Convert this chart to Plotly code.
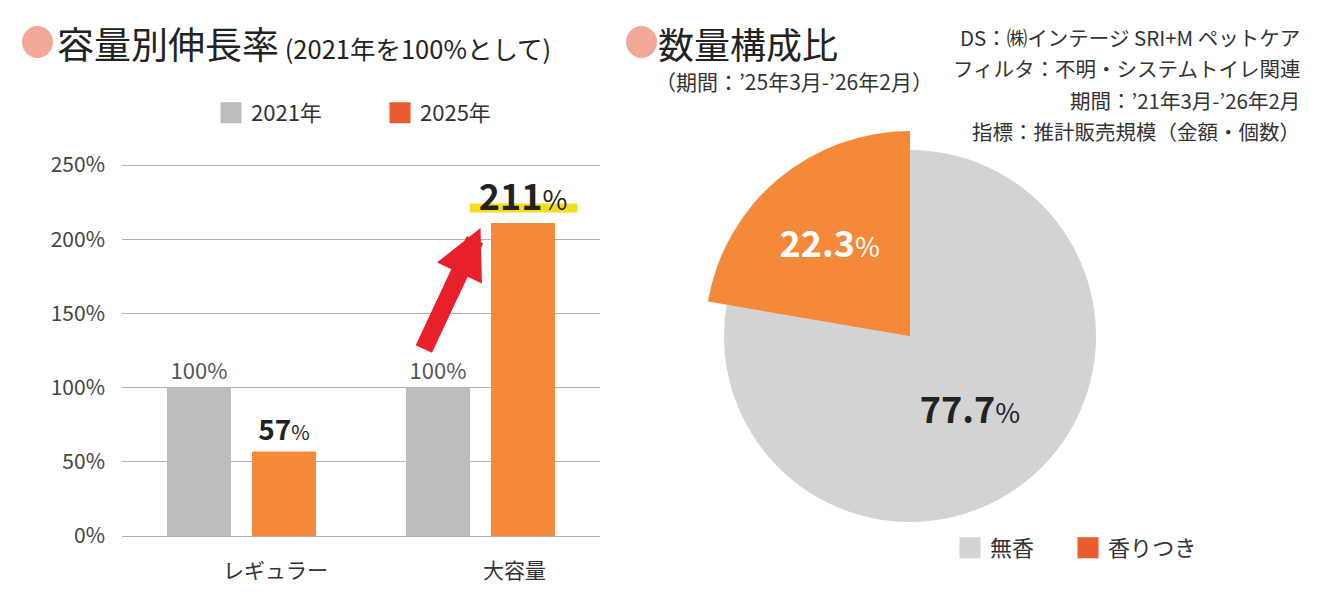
import plotly.graph_objects as go

# --- data ---
categories = ["レギュラー", "大容量"]
series_names = ["2021年", "2025年"]
growth_2021 = [100, 100]
growth_2025 = [57, 211]

pie_labels = ["無香", "香りつき"]
pie_values = [77.7, 22.3]

y_ticks = [0, 50, 100, 150, 200, 250]

source_lines = [
    "DS：㈱インテージ SRI+M ペットケア",
    "フィルタ：不明・システムトイレ関連",
    "期間：’21年3月-’26年2月",
    "指標：推計販売規模（金額・個数）",
]

FONT = "Noto Sans CJK JP"
GRAY_BAR = "#bdbdbd"
GRAY_PIE = "#d3d3d3"
ORANGE = "#f5893a"
LEGEND_ORANGE = "#e85c30"
PINK = "#f2a896"

# the page body adds an 8px margin, so the figure is a bit smaller than the window
PAD = 8
W, H = 1323 - 2 * PAD, 592 - 2 * PAD


def px(x):
    return (x - PAD) / W


def py(y):
    return (H + PAD - y) / H


fig = go.Figure()

# bars
fig.add_trace(go.Bar(
    x=categories, y=growth_2021, name=series_names[0],
    marker=dict(color=GRAY_BAR, line_width=0),
    text=[f"{v}%" for v in growth_2021], textposition="outside",
    textfont=dict(size=22, color="#555555", family=FONT),
    constraintext="none", cliponaxis=False, showlegend=False,
))
pct_sizes = [20, 27]
fig.add_trace(go.Bar(
    x=categories, y=growth_2025, name=series_names[1],
    marker=dict(color=ORANGE, line_width=0),
    text=[f"<b>{v}</b><span style='font-size:{s}px'>%</span>"
          for v, s in zip(growth_2025, pct_sizes)],
    textposition="outside",
    textfont=dict(size=[28, 36], color="#222222", family=FONT),
    constraintext="none", cliponaxis=False, showlegend=False,
))

# legend dummies (legend squares are a redder orange than the bars)
legend_items = [(series_names[0], GRAY_BAR, "legend"),
                (series_names[1], LEGEND_ORANGE, "legend"),
                (pie_labels[0], GRAY_PIE, "legend2"),
                (pie_labels[1], LEGEND_ORANGE, "legend3")]
for name, col, lg in legend_items:
    fig.add_trace(go.Scatter(x=[None], y=[None], mode="markers", name=name,
                             marker=dict(symbol="square", size=16, color=col,
                                         line=dict(color=col, width=5)),
                             legend=lg))

# pie: base pie + enlarged slice on top
cx, cy = 910, 336
r_small, r_big = 186, 205
pie_text = [f"<b>{v}</b><span style='font-size:27px'>%</span>" for v in pie_values]
fig.add_trace(go.Pie(
    labels=pie_labels, values=pie_values, sort=False, direction="clockwise",
    rotation=0, marker=dict(colors=[GRAY_PIE, ORANGE], line_width=0),
    texttemplate=[pie_text[0], ""], textposition="inside",
    insidetextorientation="horizontal",
    textfont=dict(size=36, color="#222222", family=FONT),
    domain=dict(x=[px(cx - r_small), px(cx + r_small)],
                y=[py(cy + r_small), py(cy - r_small)]),
    showlegend=False, hoverinfo="skip",
))
fig.add_trace(go.Pie(
    labels=pie_labels, values=pie_values, sort=False, direction="clockwise",
    rotation=0, marker=dict(colors=["rgba(0,0,0,0)", ORANGE], line_width=0),
    texttemplate=["", pie_text[1]], textposition="inside",
    insidetextorientation="horizontal",
    textfont=dict(size=36, color="white", family=FONT),
    domain=dict(x=[px(cx - r_big), px(cx + r_big)],
                y=[py(cy + r_big), py(cy - r_big)]),
    showlegend=False, hoverinfo="skip",
))

# yellow highlight under 211%
fig.add_shape(type="rect", xref="x", yref="y", layer="below",
              x0=0.955, x1=1.405, y0=growth_2025[1] + 7, y1=growth_2025[1] + 13,
              fillcolor="#f7dc1a", line_width=0)

# red arrow
fig.add_annotation(x=1.0, y=growth_2025[1] - 3.5, ax=0.76, ay=growth_2021[1] + 25,
                   xref="x", yref="y", axref="x", ayref="y", text="",
                   showarrow=True, arrowhead=2, arrowwidth=18, arrowsize=0.55,
                   arrowcolor="#e8202a")

# title dots
for x0 in (22, 626):
    fig.add_shape(type="circle", xref="paper", yref="paper",
                  x0=px(x0), x1=px(x0 + 31), y0=py(58), y1=py(26),
                  fillcolor=PINK, line_width=0)

# titles
fig.add_annotation(
    xref="paper", yref="paper", x=px(55), y=py(43), xanchor="left", yanchor="middle",
    text="容量別伸長率<span style='font-size:25.5px'> (2021年を100%として)</span>",
    showarrow=False, font=dict(size=37, color="#222222", family=FONT))
fig.add_annotation(
    xref="paper", yref="paper", x=px(656), y=py(43), xanchor="left", yanchor="middle",
    text="数量構成比",
    showarrow=False, font=dict(size=36, color="#222222", family=FONT))
fig.add_annotation(
    xref="paper", yref="paper", x=px(653), y=py(81), xanchor="left", yanchor="middle",
    text="（期間：’25年3月-’26年2月）",
    showarrow=False, font=dict(size=21, color="#333333", family=FONT))
for i, line in enumerate(source_lines):
    fig.add_annotation(
        xref="paper", yref="paper", x=px(1302), y=py(37 + i * 31.3),
        xanchor="right", yanchor="middle", text=line, showarrow=False,
        font=dict(size=20.5, color="#333333", family=FONT))

legend_style = dict(orientation="h", xanchor="left", yanchor="middle",
                    font=dict(size=22, color="#333333"), itemclick=False,
                    bgcolor="rgba(0,0,0,0)")

fig.update_layout(
    width=W, height=H, margin=dict(l=0, r=0, t=0, b=0, autoexpand=False),
    paper_bgcolor="white", plot_bgcolor="white",
    font=dict(family=FONT, color="#333333"),
    barmode="group", bargap=0.289, bargroupgap=0.247,
    xaxis=dict(domain=[px(122), px(600)], type="category", range=[-0.5, 1.5],
               showgrid=False, showline=False, zeroline=False, ticks="",
               automargin=False,
               tickfont=dict(size=21, color="#333333"), ticklabelstandoff=20,
               ticklabelshift=34),
    yaxis=dict(domain=[py(536), py(157.6)], range=[0, 255],
               tickmode="array", tickvals=y_ticks,
               ticktext=[f"{v}%" for v in y_ticks], showgrid=True,
               gridcolor="#b3b3b3", gridwidth=1.4, zeroline=True,
               zerolinecolor="#b3b3b3", zerolinewidth=1.4, showline=False,
               automargin=False,
               ticks="", tickfont=dict(size=21, color="#444444"),
               ticklabelstandoff=16),
    legend=dict(x=px(211), y=py(113), entrywidth=124, **legend_style),
    legend2=dict(x=px(950), y=py(548), **legend_style),
    legend3=dict(x=px(1068), y=py(548), **legend_style),
)

fig.write_html("out.html")
